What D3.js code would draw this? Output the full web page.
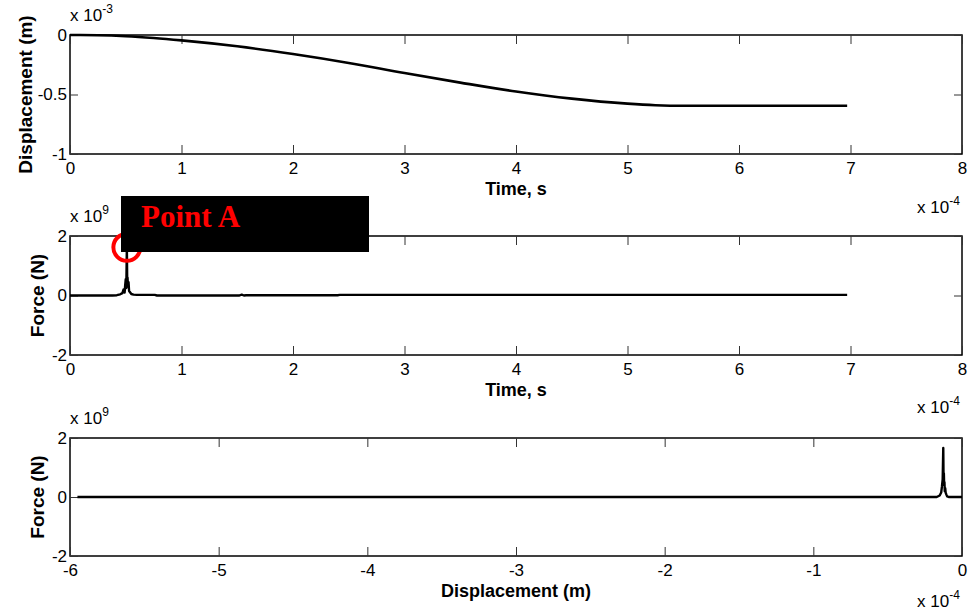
<!DOCTYPE html>
<html>
<head>
<meta charset="utf-8">
<script src="https://cdn.jsdelivr.net/npm/d3@7"></script>
<style>
    body { margin: 0; background: #fff; }
    svg { display: block; font-family: Arial, "Liberation Sans", sans-serif; }
    .tick line { stroke: #333; }
</style>
</head>
<body>
<script>
// displacement vs time (time in 1e-4 s, displacement in 1e-3 m)
const dispTime = [0, 0.25, 0.5, 0.75, 1, 1.5, 2, 2.5, 3, 3.5, 4, 4.5, 5, 5.25, 5.5, 6, 6.97]
const dispValue = [0, -0.002, -0.01, -0.025, -0.045, -0.095, -0.16, -0.235, -0.32, -0.40, -0.475, -0.535, -0.577, -0.590, -0.595, -0.595, -0.595]

// force vs time (force in 1e9 N)
const forceTime = [0, 0.38, 0.42, 0.45, 0.47, 0.48, 0.49, 0.495, 0.50, 0.505, 0.51, 0.513, 0.516, 0.52, 0.525, 0.53, 0.54, 0.55, 0.57, 0.6, 0.7, 0.76, 0.78, 1.52, 1.54, 1.56, 1.58, 2.4, 2.42, 6.97]
const forceValue = [0, 0, 0.01, 0.04, 0.08, 0.2, 0.1, 0.35, 0.55, 0.25, 1.65, 0.45, 0.6, 0.3, 0.45, 0.15, 0.1, 0.05, 0.03, 0.02, 0.02, 0.02, 0, 0, 0.03, 0, 0.01, 0.01, 0.02, 0.02]

// force vs displacement (displacement in 1e-4 m)
const fdDisp = [0, -0.09, -0.10, -0.105, -0.11, -0.113, -0.116, -0.118, -0.12, -0.122, -0.124, -0.126, -0.13, -0.135, -0.14, -0.15, -0.17, -5.95]
const fdForce = [0, 0, 0.02, 0.08, 0.15, 0.3, 0.2, 0.5, 0.4, 0.8, 0.55, 1.66, 0.6, 0.35, 0.15, 0.05, 0, 0]

// tick labels
const timeTicks = [0, 1, 2, 3, 4, 5, 6, 7, 8]
const dispTicks = [0, -0.5, -1]
const forceTicks = [-2, 0, 2]
const fdTicks = [-6, -5, -4, -3, -2, -1, 0]

// annotation
const pointA = { t: 0.51, f: 1.62, label: 'Point A' }

const svgWidth = 969
const svgHeight = 612
const left = 70
const right = 962

const svg = d3.select('body')
    .append('svg')
    .attr('width', svgWidth)
    .attr('height', svgHeight)

function drawPanel(cfg) {
    const x = d3.scaleLinear().domain(cfg.xDomain).range([left, right])
    const y = d3.scaleLinear().domain(cfg.yDomain).range([cfg.bottom, cfg.top])
    const g = svg.append('g')

    // box
    g.append('rect')
        .attr('x', left)
        .attr('y', cfg.top)
        .attr('width', right - left)
        .attr('height', cfg.bottom - cfg.top)
        .attr('fill', 'none')
        .attr('stroke', '#000')
        .attr('stroke-width', 1.5)

    // ticks on all four sides, pointing inwards
    g.append('g')
        .attr('transform', `translate(0, ${cfg.bottom})`)
        .call(d3.axisBottom(x).tickValues(cfg.xTicks).tickSize(-9).tickPadding(8).tickFormat(d => String(d)))
        .call(a => a.select('.domain').remove())
        .call(a => a.attr('font-size', 17).attr('font-family', null))
        .call(a => a.selectAll('text').attr('fill', '#000'))
    g.append('g')
        .attr('transform', `translate(0, ${cfg.top})`)
        .call(d3.axisTop(x).tickValues(cfg.xTicks).tickSize(-9).tickFormat(''))
        .call(a => a.select('.domain').remove())
    g.append('g')
        .attr('transform', `translate(${left}, 0)`)
        .call(d3.axisLeft(y).tickValues(cfg.yTicks).tickSize(-8).tickPadding(3).tickFormat(d => String(d)))
        .call(a => a.select('.domain').remove())
        .call(a => a.attr('font-size', 17).attr('font-family', null))
        .call(a => a.selectAll('text').attr('fill', '#000'))
    g.append('g')
        .attr('transform', `translate(${right}, 0)`)
        .call(d3.axisRight(y).tickValues(cfg.yTicks).tickSize(-8).tickFormat(''))
        .call(a => a.select('.domain').remove())

    // data line
    const line = d3.line()
        .x(d => x(d[0]))
        .y(d => y(d[1]))
    if (cfg.smooth) line.curve(d3.curveMonotoneX)
    g.append('path')
        .datum(d3.zip(cfg.xs, cfg.ys))
        .attr('d', line)
        .attr('fill', 'none')
        .attr('stroke', '#000')
        .attr('stroke-width', cfg.lineWidth)
        .attr('stroke-linejoin', 'round')

    // axis labels
    g.append('text')
        .attr('x', (left + right) / 2)
        .attr('y', cfg.bottom + 41)
        .attr('text-anchor', 'middle')
        .attr('font-size', 18)
        .attr('font-weight', 'bold')
        .text(cfg.xLabel)
    g.append('text')
        .attr('transform', `translate(${cfg.yLabelX}, ${(cfg.top + cfg.bottom) / 2}) rotate(-90)`)
        .attr('text-anchor', 'middle')
        .attr('font-size', 19)
        .attr('font-weight', 'bold')
        .text(cfg.yLabel)

    // exponent labels
    const yExp = g.append('text')
        .attr('x', left)
        .attr('y', cfg.top - 14)
        .attr('font-size', 17)
    yExp.append('tspan').text('x 10')
    yExp.append('tspan').attr('dy', -8).attr('font-size', 12).text(cfg.yExp)

    const xExp = g.append('text')
        .attr('x', 917)
        .attr('y', cfg.bottom + cfg.xExpOffset)
        .attr('font-size', 17)
    xExp.append('tspan').text('x 10')
    xExp.append('tspan').attr('dy', -8).attr('font-size', 12).text('-4')

    return { x, y, g }
}

drawPanel({
    top: 35, bottom: 154,
    xDomain: [0, 8], yDomain: [-1, 0],
    xTicks: timeTicks, yTicks: dispTicks,
    xs: dispTime, ys: dispValue, smooth: true, lineWidth: 2.6,
    xLabel: 'Time, s', yLabel: 'Displacement (m)', yLabelX: 32, yExp: '-3', xExpOffset: 59
})

const mid = drawPanel({
    top: 236, bottom: 355,
    xDomain: [0, 8], yDomain: [-2, 2],
    xTicks: timeTicks, yTicks: forceTicks,
    xs: forceTime, ys: forceValue, smooth: false, lineWidth: 2.4,
    xLabel: 'Time, s', yLabel: 'Force (N)', yLabelX: 44, yExp: '9', xExpOffset: 58
})

drawPanel({
    top: 438, bottom: 556,
    xDomain: [-6, 0], yDomain: [-2, 2],
    xTicks: fdTicks, yTicks: forceTicks,
    xs: fdDisp, ys: fdForce, smooth: false, lineWidth: 2.4,
    xLabel: 'Displacement (m)', yLabel: 'Force (N)', yLabelX: 44, yExp: '9', xExpOffset: 51
})

// Point A marker and label box
mid.g.append('circle')
    .attr('cx', mid.x(pointA.t))
    .attr('cy', mid.y(pointA.f))
    .attr('r', 13.5)
    .attr('fill', 'none')
    .attr('stroke', '#f00')
    .attr('stroke-width', 4)

mid.g.append('rect')
    .attr('x', 121)
    .attr('y', 196)
    .attr('width', 248)
    .attr('height', 56)
    .attr('fill', '#000')

mid.g.append('text')
    .attr('x', 141)
    .attr('y', 227)
    .attr('fill', '#f00')
    .attr('font-family', '"Liberation Serif", "Times New Roman", serif')
    .attr('font-weight', 'bold')
    .attr('font-size', 31)
    .text(pointA.label)
</script>
</body>
</html>
